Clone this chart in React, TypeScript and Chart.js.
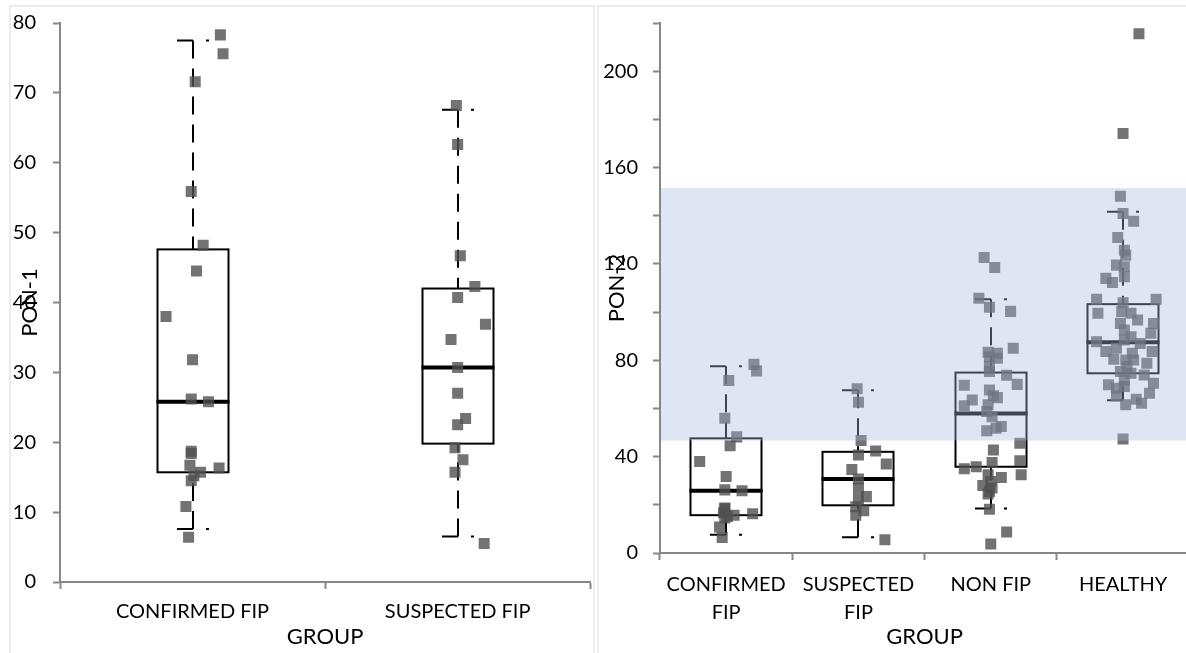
import React, { useEffect, useRef } from "react";
import { Chart, registerables } from "chart.js";

Chart.register(...registerables);

// ---------------- DATA ----------------
const leftCategories = ["CONFIRMED FIP", "SUSPECTED FIP"];
const rightCategories = [["CONFIRMED", "FIP"], ["SUSPECTED", "FIP"], "NON FIP", "HEALTHY"];

const confirmedFip = [78.3, 75.6, 71.6, 55.9, 48.2, 44.5, 38.0, 31.8, 26.2, 25.8, 18.7, 18.4, 16.7, 16.3, 15.7, 15.2, 14.5, 10.8, 6.4];
const confirmedJitter = [0.21, 0.23, 0.02, -0.01, 0.08, 0.03, -0.2, 0, -0.01, 0.12, -0.01, -0.01, -0.02, 0.2, 0.06, 0.01, -0.01, -0.05, -0.03];

const suspectedFip = [68.2, 62.6, 46.7, 42.3, 40.7, 36.9, 34.7, 30.7, 27.0, 23.4, 22.5, 19.2, 17.5, 15.7, 5.5];
const suspectedJitter = [-0.01, 0, 0.02, 0.13, 0, 0.21, -0.05, 0, 0, 0.06, 0, -0.02, 0.04, -0.02, 0.2];

const nonFip = [122.7, 118.5, 105.7, 102.0, 100.3, 85.0, 83.3, 82.9, 81.5, 80.8, 77.5, 75.3, 73.8, 70.0, 69.6, 67.7, 65.3, 64.5, 63.5, 61.1, 61.5, 58.7, 56.6, 52.5, 51.8, 50.7, 45.6, 42.8, 38.3, 37.6, 35.8, 35.0, 32.5, 32.5, 31.3, 29.7, 28.0, 27.0, 25.5, 24.5, 18.2, 8.7, 3.7];
const nonFipJitter = [-0.05, 0.03, -0.09, -0.01, 0.15, 0.17, -0.02, 0.05, -0.01, 0.05, -0.01, -0.01, 0.12, 0.2, -0.2, -0.01, 0.02, 0.05, -0.14, -0.2, -0.02, -0.03, 0.01, 0.08, 0.04, -0.03, 0.22, 0.02, 0.22, 0.01, -0.11, -0.2, 0.23, -0.02, 0.08, 0, -0.06, 0.01, -0.01, -0.02, -0.01, 0.12, 0];

const healthy = [215.5, 174.1, 148.1, 140.9, 137.7, 131.0, 125.7, 123.6, 119.5, 118.8, 114.7, 114.0, 112.3, 105.3, 105.3, 103.9, 99.5, 100.1, 99.5, 96.7, 95.3, 95.3, 92.6, 91.2, 89.8, 88.4, 87.7, 87.0, 85.0, 83.6, 83.6, 82.9, 80.4, 80.1, 80.1, 78.8, 77.5, 75.3, 74.6, 73.9, 71.8, 70.5, 69.8, 69.1, 68.4, 66.3, 65.2, 63.8, 62.2, 61.5, 47.3];
const healthyJitter = [0.12, 0, -0.02, 0, 0.08, -0.04, 0.01, 0.02, -0.05, 0.01, 0.01, -0.13, -0.08, -0.2, 0.25, 0, -0.19, -0.01, 0.06, 0.11, 0.23, -0.02, 0.01, 0.21, 0.06, 0.01, -0.2, 0.13, -0.05, -0.13, 0.22, 0.07, -0.07, 0.02, 0.08, 0.18, 0.03, -0.02, 0.06, 0.16, 0.01, 0.23, -0.11, 0.01, -0.05, 0.2, -0.05, 0.1, 0.14, 0.02, 0];

// box statistics per group (confirmed, suspected, non FIP, healthy)
const whiskerLow = [7.6, 6.5, 18.5, 63.4];
const quartile1 = [15.7, 19.8, 35.8, 74.6];
const medians = [25.8, 30.7, 57.9, 87.5];
const quartile3 = [47.6, 42.0, 74.9, 103.3];
const whiskerHigh = [77.5, 67.6, 105.3, 141.6];

const referenceInterval = [46.7, 151.5];

const leftYMax = 80;
const leftYStep = 10;
const rightYMax = 220;
const rightYStep = 20;
const rightYLabelStep = 40;

const xTitle = "GROUP";
const leftYTitle = "PON-1";
const rightYTitle = "PON-2";

// ---------------- HELPERS ----------------
const FONT = "Lato";
const AXIS_GRAY = "#878787";

function makePoints(groups: number[][], jitters: number[][], jitterScale: number) {
  const pts: { x: number; y: number }[] = [];
  groups.forEach((vals, i) => {
    vals.forEach((v, j) => pts.push({ x: i + jitters[i][j] * jitterScale, y: v }));
  });
  return pts;
}

function boxPlugin(count: number, band: number[] | null) {
  return {
    id: "boxes",
    beforeDatasetsDraw(chart: any) {
      const { ctx } = chart;
      const xs = chart.scales.xv;
      const ys = chart.scales.y;
      ctx.save();
      ctx.strokeStyle = "#000";
      for (let i = 0; i < count; i++) {
        const cx = Math.round(xs.getPixelForValue(i));
        const half = 35.5;
        const yLo = ys.getPixelForValue(whiskerLow[i]);
        const yQ1 = ys.getPixelForValue(quartile1[i]);
        const yMed = ys.getPixelForValue(medians[i]);
        const yQ3 = ys.getPixelForValue(quartile3[i]);
        const yHi = ys.getPixelForValue(whiskerHigh[i]);
        ctx.lineWidth = 2;
        ctx.setLineDash([18, 10]);
        ctx.beginPath();
        ctx.moveTo(cx, yHi);
        ctx.lineTo(cx, yQ3);
        ctx.stroke();
        ctx.beginPath();
        ctx.moveTo(cx, yLo);
        ctx.lineTo(cx, yQ1);
        ctx.stroke();
        ctx.setLineDash([16, 13]);
        ctx.beginPath();
        ctx.moveTo(cx - 16, yHi);
        ctx.lineTo(cx + 16, yHi);
        ctx.stroke();
        ctx.beginPath();
        ctx.moveTo(cx - 16, yLo);
        ctx.lineTo(cx + 16, yLo);
        ctx.stroke();
        ctx.setLineDash([]);
        ctx.strokeRect(cx - half, yQ3, half * 2, yQ1 - yQ3);
        ctx.lineWidth = 4;
        ctx.beginPath();
        ctx.moveTo(cx - half - 1, yMed);
        ctx.lineTo(cx + half + 1, yMed);
        ctx.stroke();
      }
      ctx.restore();
    },
    afterDatasetsDraw(chart: any) {
      if (!band) return;
      const { ctx, chartArea } = chart;
      const ys = chart.scales.y;
      const top = ys.getPixelForValue(band[1]);
      const bottom = ys.getPixelForValue(band[0]);
      ctx.save();
      ctx.fillStyle = "rgba(168,186,222,0.37)";
      ctx.fillRect(chartArea.left + 1, top, chartArea.right - chartArea.left, bottom - top);
      ctx.restore();
    },
  };
}

function titlePlugin(yTitle: string, xTitleY: number, yTitleX: number) {
  return {
    id: "titles",
    afterDraw(chart: any) {
      const { ctx, chartArea } = chart;
      ctx.save();
      ctx.fillStyle = "#000";
      ctx.font = `22px ${FONT}`;
      ctx.textAlign = "center";
      ctx.textBaseline = "middle";
      ctx.fillText(xTitle, (chartArea.left + chartArea.right) / 2, xTitleY);
      ctx.translate(yTitleX, (chartArea.top + chartArea.bottom) / 2);
      ctx.rotate(-Math.PI / 2);
      ctx.fillText(yTitle, 0, 0);
      ctx.restore();
    },
  };
}

function buildConfig(p: {
  labels: any[];
  points: { x: number; y: number }[];
  yMax: number;
  yStep: number;
  yLabelStep: number;
  yWidth: number;
  xHeight: number;
  padTop: number;
  padRight: number;
  xLabelPad: number;
  yLabelPad: number;
  plugins: any[];
}) {
  const n = p.labels.length;
  return {
    type: "scatter",
    data: {
      labels: p.labels,
      datasets: [
        {
          data: p.points,
          xAxisID: "xv",
          yAxisID: "y",
          pointStyle: "rect",
          pointRadius: 7.8,
          pointHoverRadius: 7.8,
          borderWidth: 0,
          backgroundColor: "rgba(80,80,80,0.8)",
        },
      ],
    },
    options: {
      animation: false,
      responsive: false,
      devicePixelRatio: 1,
      events: [],
      layout: { padding: { top: p.padTop, right: p.padRight, left: 0, bottom: 0 } },
      plugins: { legend: { display: false }, tooltip: { enabled: false }, title: { display: false } },
      scales: {
        x: {
          type: "category",
          position: "bottom",
          offset: true,
          grid: {
            offset: true,
            drawOnChartArea: false,
            drawTicks: true,
            tickLength: 7,
            tickWidth: 2,
            tickColor: AXIS_GRAY,
          },
          border: { display: true, color: AXIS_GRAY, width: 2 },
          ticks: {
            color: "#000",
            font: { family: FONT, size: 20, lineHeight: 1.4 },
            padding: p.xLabelPad,
            maxRotation: 0,
            minRotation: 0,
            autoSkip: false,
          },
          afterFit: (s: any) => {
            s.height = p.xHeight;
            s.paddingLeft = 0;
            s.paddingRight = 0;
          },
        },
        xv: { type: "linear", display: false, min: -0.5, max: n - 0.5 },
        y: {
          type: "linear",
          position: "left",
          min: 0,
          max: p.yMax,
          grid: {
            drawOnChartArea: false,
            drawTicks: true,
            tickLength: 7,
            tickWidth: 2,
            tickColor: AXIS_GRAY,
          },
          border: { display: true, color: AXIS_GRAY, width: 2 },
          ticks: {
            stepSize: p.yStep,
            color: "#000",
            font: { family: FONT, size: 20 },
            padding: p.yLabelPad,
            callback: (v: number) => (v % p.yLabelStep === 0 ? String(v) : ""),
          },
          afterFit: (s: any) => {
            s.width = p.yWidth;
            s.paddingTop = 0;
            s.paddingBottom = 0;
          },
        },
      },
    },
    plugins: p.plugins,
  };
}

function ChartCanvas({ config, width, height, left, top }: any) {
  const ref = useRef<HTMLCanvasElement>(null);
  useEffect(() => {
    const chart = new Chart(ref.current as HTMLCanvasElement, config);
    return () => chart.destroy();
  }, []);
  return (
    <canvas
      ref={ref}
      width={width}
      height={height}
      style={{ position: "absolute", left, top, width, height }}
    />
  );
}

export default function App() {
  const leftPoints = makePoints([confirmedFip, suspectedFip], [confirmedJitter, suspectedJitter], 0.5);
  const rightPoints = makePoints(
    [confirmedFip, suspectedFip, nonFip, healthy],
    [confirmedJitter, suspectedJitter, nonFipJitter, healthyJitter],
    1
  );

  const leftConfig = buildConfig({
    labels: leftCategories,
    points: leftPoints,
    yMax: leftYMax,
    yStep: leftYStep,
    yLabelStep: leftYStep,
    yWidth: 50,
    xHeight: 71,
    padTop: 17,
    padRight: 2,
    xLabelPad: 9,
    yLabelPad: 17,
    plugins: [boxPlugin(2, null), titlePlugin(leftYTitle, 631, 20)],
  });

  const rightConfig = buildConfig({
    labels: rightCategories,
    points: rightPoints,
    yMax: rightYMax,
    yStep: rightYStep,
    yLabelStep: rightYLabelStep,
    yWidth: 63,
    xHeight: 100,
    padTop: 17,
    padRight: 6,
    xLabelPad: 11,
    yLabelPad: 15,
    plugins: [boxPlugin(4, referenceInterval), titlePlugin(rightYTitle, 631, 20)],
  });

  return (
    <div
      style={{
        position: "absolute",
        left: 0,
        top: 0,
        width: 1186,
        height: 653,
        overflow: "hidden",
        background: "#fff",
      }}
    >
      <div
        style={{
          position: "absolute",
          left: 9,
          top: 5,
          width: 582,
          height: 700,
          borderTop: "2px solid #ececec",
          borderLeft: "2px solid #ececec",
          borderRight: "2px solid #ececec",
        }}
      />
      <div
        style={{
          position: "absolute",
          left: 597,
          top: 5,
          width: 700,
          height: 700,
          borderTop: "2px solid #ececec",
          borderLeft: "2px solid #ececec",
        }}
      />
      <ChartCanvas config={leftConfig} width={588} height={647} left={10} top={6} />
      <ChartCanvas config={rightConfig} width={600} height={647} left={597} top={6} />
    </div>
  );
}
